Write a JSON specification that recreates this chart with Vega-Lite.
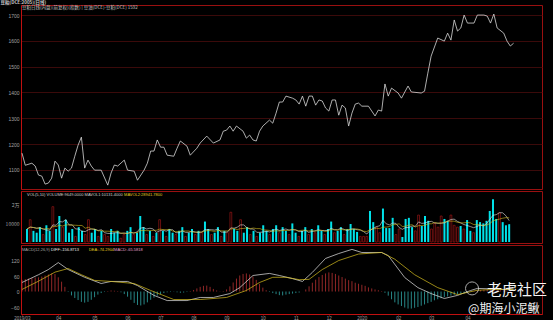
{
  "$schema": "https://vega.github.io/schema/vega-lite/v6.json",
  "background": "black",
  "padding": {"left": 0, "top": 0, "right": 12, "bottom": 0},
  "spacing": 0,
  "config": {
    "view": {"stroke": "#9a1010", "strokeWidth": 1},
    "axis": {"labelColor": "#a0a0a0", "labelFont": "Liberation Sans", "labelFontSize": 5, "gridColor": "#4a0c0c", "gridWidth": 0.8, "domainColor": "#c01010", "tickColor": "#c01010", "tickSize": 2, "labelPadding": 2},
    "title": {"color": "#c8c8c8", "font": "Noto Sans CJK SC", "fontSize": 4.5}
  },
  "title": {"text": "豆粕(DCE:2005)(日线)", "anchor": "start", "offset": 0, "fontSize": 4.5, "color": "#c8c8c8"},
  "datasets": {
    "price": [
      {"i":0,"p":1165},{"i":1,"p":1118},{"i":3,"p":1126},{"i":4,"p":1115},{"i":5,"p":1080},{"i":6,"p":1076},{"i":7,"p":1045},{"i":8,"p":1049},{"i":9,"p":1068},{"i":10,"p":1134},
      {"i":11,"p":1119},{"i":12,"p":1068},{"i":13,"p":1107},{"i":14,"p":1095},{"i":15,"p":1107},{"i":16,"p":1153},{"i":17,"p":1196},{"i":18,"p":1227},{"i":19,"p":1107},{"i":20,"p":1138},
      {"i":21,"p":1115},{"i":22,"p":1099},{"i":24,"p":1099},{"i":26,"p":1041},{"i":27,"p":1088},{"i":28,"p":1119},{"i":29,"p":1115},{"i":31,"p":1138},{"i":32,"p":1099},{"i":34,"p":1095},
      {"i":35,"p":1060},{"i":37,"p":1099},{"i":38,"p":1126},{"i":39,"p":1173},{"i":40,"p":1173},{"i":41,"p":1216},{"i":42,"p":1188},{"i":43,"p":1188},{"i":44,"p":1157},{"i":46,"p":1153},
      {"i":47,"p":1184},{"i":48,"p":1212},{"i":50,"p":1192},{"i":51,"p":1157},{"i":53,"p":1184},{"i":54,"p":1204},{"i":56,"p":1231},{"i":58,"p":1204},{"i":60,"p":1216},{"i":61,"p":1250},
      {"i":62,"p":1254},{"i":63,"p":1270},{"i":64,"p":1250},{"i":65,"p":1270},{"i":67,"p":1250},{"i":68,"p":1223},{"i":69,"p":1235},{"i":70,"p":1216},{"i":71,"p":1212},{"i":72,"p":1250},
      {"i":73,"p":1270},{"i":75,"p":1293},{"i":76,"p":1281},{"i":77,"p":1320},{"i":78,"p":1363},{"i":79,"p":1363},{"i":80,"p":1386},{"i":82,"p":1378},{"i":83,"p":1371},{"i":84,"p":1355},
      {"i":85,"p":1386},{"i":86,"p":1347},{"i":87,"p":1386},{"i":88,"p":1386},{"i":89,"p":1351},{"i":90,"p":1371},{"i":91,"p":1367},{"i":92,"p":1340},{"i":93,"p":1328},{"i":94,"p":1371},
      {"i":95,"p":1371},{"i":96,"p":1312},{"i":97,"p":1351},{"i":98,"p":1340},{"i":99,"p":1270},{"i":100,"p":1320},{"i":101,"p":1355},{"i":102,"p":1359},{"i":103,"p":1347},{"i":105,"p":1347},
      {"i":107,"p":1309},{"i":108,"p":1332},{"i":109,"p":1328},{"i":110,"p":1433},{"i":111,"p":1386},{"i":112,"p":1417},{"i":114,"p":1398},{"i":115,"p":1378},{"i":117,"p":1425},{"i":118,"p":1402},
      {"i":121,"p":1398},{"i":122,"p":1405},{"i":123,"p":1475},{"i":124,"p":1541},{"i":126,"p":1611},{"i":128,"p":1599},{"i":129,"p":1630},{"i":130,"p":1603},{"i":131,"p":1681},{"i":132,"p":1638},
      {"i":133,"p":1650},{"i":134,"p":1700},{"i":135,"p":1669},{"i":137,"p":1669},{"i":138,"p":1700},{"i":140,"p":1700},{"i":141,"p":1696},{"i":142,"p":1669},{"i":143,"p":1704},{"i":144,"p":1650},
      {"i":146,"p":1630},{"i":147,"p":1599},{"i":148,"p":1580},{"i":149,"p":1591}
    ],
    "vol": [
      {"i":0,"v":7000,"d":"up","m5":7000,"m10":7000,"h":45},
      {"i":1,"v":12000,"d":"dn","m5":8000,"m10":8000,"h":48},
      {"i":2,"v":6000,"d":"up","m5":7800,"m10":7800,"h":50},
      {"i":3,"v":5000,"d":"up","m5":7400,"m10":7400,"h":52},
      {"i":4,"v":8000,"d":"up","m5":7600,"m10":7600,"h":54},
      {"i":5,"v":4000,"d":"dn","m5":7000,"m10":7000,"h":55},
      {"i":6,"v":9000,"d":"up","m5":6400,"m10":7200,"h":58},
      {"i":7,"v":6000,"d":"up","m5":6400,"m10":7100,"h":62},
      {"i":8,"v":19000,"d":"dn","m5":9200,"m10":8300,"h":66},
      {"i":9,"v":7000,"d":"up","m5":9000,"m10":8300,"h":70},
      {"i":10,"v":14000,"d":"up","m5":11000,"m10":9000,"h":68},
      {"i":11,"v":8000,"d":"dn","m5":10800,"m10":8600,"h":55},
      {"i":12,"v":12000,"d":"up","m5":12000,"m10":9200,"h":38},
      {"i":13,"v":5000,"d":"up","m5":9200,"m10":9200,"h":18},
      {"i":14,"v":7000,"d":"up","m5":9200,"m10":9100,"h":-2},
      {"i":15,"v":3000,"d":"dn","m5":7000,"m10":9000,"h":-15},
      {"i":16,"v":8000,"d":"up","m5":7000,"m10":8900,"h":-25},
      {"i":17,"v":6000,"d":"up","m5":5800,"m10":8900,"h":-33},
      {"i":18,"v":4000,"d":"dn","m5":5600,"m10":7400,"h":-40},
      {"i":19,"v":12000,"d":"dn","m5":6600,"m10":7900,"h":-43},
      {"i":20,"v":5000,"d":"up","m5":7000,"m10":7000,"h":-40},
      {"i":21,"v":7000,"d":"up","m5":6800,"m10":6900,"h":-32},
      {"i":22,"v":3000,"d":"dn","m5":6200,"m10":6000,"h":-22},
      {"i":23,"v":6000,"d":"up","m5":6600,"m10":6100,"h":-12},
      {"i":24,"v":4000,"d":"dn","m5":5000,"m10":5800,"h":-6},
      {"i":25,"v":3000,"d":"dn","m5":4600,"m10":5800,"h":-2},
      {"i":26,"v":7000,"d":"up","m5":4600,"m10":5700,"h":2},
      {"i":27,"v":5000,"d":"up","m5":5000,"m10":5600,"h":4},
      {"i":28,"v":6000,"d":"up","m5":5000,"m10":5800,"h":3},
      {"i":29,"v":2000,"d":"dn","m5":4600,"m10":4800,"h":2},
      {"i":30,"v":4000,"d":"dn","m5":4800,"m10":4700,"h":-3},
      {"i":31,"v":6000,"d":"up","m5":4600,"m10":4600,"h":-10},
      {"i":32,"v":8000,"d":"up","m5":5200,"m10":5100,"h":-20},
      {"i":33,"v":4000,"d":"dn","m5":4800,"m10":4900,"h":-32},
      {"i":34,"v":5000,"d":"up","m5":5400,"m10":5000,"h":-44},
      {"i":35,"v":14000,"d":"up","m5":7400,"m10":6100,"h":-52},
      {"i":36,"v":8000,"d":"up","m5":7800,"m10":6200,"h":-54},
      {"i":37,"v":4000,"d":"dn","m5":7000,"m10":6100,"h":-50},
      {"i":38,"v":6000,"d":"up","m5":7400,"m10":6100,"h":-42},
      {"i":39,"v":3000,"d":"dn","m5":7000,"m10":6200,"h":-32},
      {"i":40,"v":5000,"d":"up","m5":5200,"m10":6300,"h":-24},
      {"i":41,"v":12000,"d":"dn","m5":6000,"m10":6900,"h":-16},
      {"i":42,"v":6000,"d":"up","m5":6400,"m10":6700,"h":-10},
      {"i":43,"v":3000,"d":"dn","m5":5800,"m10":6600,"h":-6},
      {"i":44,"v":7000,"d":"up","m5":6600,"m10":6800,"h":-3},
      {"i":45,"v":5000,"d":"up","m5":6600,"m10":5900,"h":-2},
      {"i":46,"v":4000,"d":"dn","m5":5000,"m10":5500,"h":-1},
      {"i":47,"v":6000,"d":"up","m5":5000,"m10":5700,"h":-3},
      {"i":48,"v":8000,"d":"up","m5":6000,"m10":5900,"h":-5},
      {"i":49,"v":3000,"d":"dn","m5":5200,"m10":5900,"h":-4},
      {"i":50,"v":5000,"d":"up","m5":5200,"m10":5900,"h":-2},
      {"i":51,"v":7000,"d":"up","m5":5800,"m10":5400,"h":2},
      {"i":52,"v":4000,"d":"dn","m5":5400,"m10":5200,"h":6},
      {"i":53,"v":6000,"d":"up","m5":5000,"m10":5500,"h":12},
      {"i":54,"v":5000,"d":"dn","m5":5400,"m10":5300,"h":18},
      {"i":55,"v":11000,"d":"up","m5":6600,"m10":5900,"h":22},
      {"i":56,"v":7000,"d":"up","m5":6600,"m10":6200,"h":23},
      {"i":57,"v":4000,"d":"dn","m5":6600,"m10":6000,"h":18},
      {"i":58,"v":5000,"d":"up","m5":6400,"m10":5700,"h":10},
      {"i":59,"v":8000,"d":"up","m5":7000,"m10":6200,"h":4},
      {"i":60,"v":3000,"d":"dn","m5":5400,"m10":6000,"h":1},
      {"i":61,"v":6000,"d":"up","m5":5200,"m10":5900,"h":2},
      {"i":62,"v":5000,"d":"dn","m5":5400,"m10":6000,"h":8},
      {"i":63,"v":16000,"d":"dn","m5":7600,"m10":7000,"h":20},
      {"i":64,"v":7000,"d":"up","m5":7400,"m10":7200,"h":35},
      {"i":65,"v":6000,"d":"up","m5":8000,"m10":6700,"h":50},
      {"i":66,"v":12000,"d":"dn","m5":9200,"m10":7200,"h":62},
      {"i":67,"v":5000,"d":"up","m5":9200,"m10":7300,"h":68},
      {"i":68,"v":8000,"d":"up","m5":7600,"m10":7600,"h":70},
      {"i":69,"v":4000,"d":"dn","m5":7000,"m10":7200,"h":66},
      {"i":70,"v":6000,"d":"up","m5":7000,"m10":7500,"h":58},
      {"i":71,"v":3000,"d":"dn","m5":5200,"m10":7200,"h":45},
      {"i":72,"v":5000,"d":"up","m5":5200,"m10":7200,"h":30},
      {"i":73,"v":9000,"d":"up","m5":5400,"m10":6500,"h":15},
      {"i":74,"v":6000,"d":"up","m5":5800,"m10":6400,"h":5},
      {"i":75,"v":4000,"d":"dn","m5":5400,"m10":6200,"h":-2},
      {"i":76,"v":7000,"d":"up","m5":6200,"m10":5700,"h":-6},
      {"i":77,"v":9000,"d":"up","m5":7000,"m10":6100,"h":-10},
      {"i":78,"v":5000,"d":"dn","m5":6200,"m10":5800,"h":-14},
      {"i":79,"v":8000,"d":"up","m5":6600,"m10":6200,"h":-15},
      {"i":80,"v":6000,"d":"up","m5":7000,"m10":6200,"h":-12},
      {"i":81,"v":4000,"d":"dn","m5":6400,"m10":6300,"h":-10},
      {"i":82,"v":10000,"d":"up","m5":6600,"m10":6800,"h":-8},
      {"i":83,"v":5000,"d":"up","m5":6600,"m10":6400,"h":-6},
      {"i":84,"v":3000,"d":"dn","m5":5600,"m10":6100,"h":-4},
      {"i":85,"v":6000,"d":"up","m5":5600,"m10":6300,"h":0},
      {"i":86,"v":8000,"d":"up","m5":6400,"m10":6400,"h":8},
      {"i":87,"v":4000,"d":"dn","m5":5200,"m10":5900,"h":20},
      {"i":88,"v":7000,"d":"up","m5":5600,"m10":6100,"h":34},
      {"i":89,"v":5000,"d":"dn","m5":6000,"m10":5800,"h":46},
      {"i":90,"v":9000,"d":"up","m5":6600,"m10":6100,"h":56},
      {"i":91,"v":6000,"d":"up","m5":6200,"m10":6300,"h":64},
      {"i":92,"v":4000,"d":"dn","m5":6200,"m10":5700,"h":70},
      {"i":93,"v":7000,"d":"up","m5":6200,"m10":5900,"h":74},
      {"i":94,"v":11000,"d":"up","m5":7400,"m10":6700,"h":72},
      {"i":95,"v":5000,"d":"dn","m5":6600,"m10":6600,"h":68},
      {"i":96,"v":6000,"d":"up","m5":6600,"m10":6400,"h":62},
      {"i":97,"v":8000,"d":"up","m5":7400,"m10":6800,"h":56},
      {"i":98,"v":4000,"d":"dn","m5":6800,"m10":6500,"h":50},
      {"i":99,"v":7000,"d":"up","m5":6000,"m10":6700,"h":44},
      {"i":100,"v":9700,"d":"up","m5":6900,"m10":6800,"h":40},
      {"i":101,"v":7000,"d":"up","m5":7100,"m10":6900,"h":34},
      {"i":102,"v":5400,"d":"up","m5":6600,"m10":7000,"h":30},
      {"i":103,"v":3000,"d":"dn","m5":6400,"m10":6600,"h":26},
      {"i":104,"v":3000,"d":"dn","m5":5600,"m10":5800,"h":22},
      {"i":105,"v":3000,"d":"dn","m5":4300,"m10":5600,"h":16},
      {"i":106,"v":16700,"d":"up","m5":6200,"m10":6700,"h":12},
      {"i":107,"v":10700,"d":"up","m5":7300,"m10":7000,"h":8},
      {"i":108,"v":8000,"d":"dn","m5":8300,"m10":7400,"h":5},
      {"i":109,"v":5000,"d":"dn","m5":8700,"m10":7200,"h":2},
      {"i":110,"v":18000,"d":"up","m5":11700,"m10":8000,"h":-5},
      {"i":111,"v":7500,"d":"up","m5":9800,"m10":8000,"h":-16},
      {"i":112,"v":7500,"d":"up","m5":9200,"m10":8300,"h":-30},
      {"i":113,"v":13000,"d":"up","m5":10200,"m10":9300,"h":-42},
      {"i":114,"v":4000,"d":"dn","m5":10000,"m10":9400,"h":-50},
      {"i":115,"v":7000,"d":"dn","m5":7800,"m10":9800,"h":-56},
      {"i":116,"v":2700,"d":"up","m5":6800,"m10":8300,"h":-62},
      {"i":117,"v":12400,"d":"up","m5":7800,"m10":8500,"h":-66},
      {"i":118,"v":13000,"d":"up","m5":7800,"m10":9000,"h":-66},
      {"i":119,"v":8000,"d":"up","m5":8600,"m10":9300,"h":-63},
      {"i":120,"v":6000,"d":"dn","m5":8400,"m10":8100,"h":-60},
      {"i":121,"v":14500,"d":"dn","m5":10800,"m10":8800,"h":-55},
      {"i":122,"v":8600,"d":"up","m5":10000,"m10":8900,"h":-50},
      {"i":123,"v":14000,"d":"up","m5":10200,"m10":9000,"h":-45},
      {"i":124,"v":11400,"d":"up","m5":10900,"m10":9800,"h":-40},
      {"i":125,"v":7000,"d":"dn","m5":11100,"m10":9800,"h":-34},
      {"i":126,"v":10000,"d":"dn","m5":10200,"m10":10500,"h":-30},
      {"i":127,"v":8000,"d":"dn","m5":10100,"m10":10100,"h":-26},
      {"i":128,"v":14000,"d":"dn","m5":10100,"m10":10200,"h":-22},
      {"i":129,"v":12400,"d":"up","m5":10300,"m10":10600,"h":-19},
      {"i":130,"v":11400,"d":"up","m5":11200,"m10":11200,"h":-16},
      {"i":131,"v":14500,"d":"dn","m5":12100,"m10":11200,"h":-13},
      {"i":132,"v":9000,"d":"dn","m5":12300,"m10":11200,"h":-11},
      {"i":133,"v":8000,"d":"dn","m5":11100,"m10":10600,"h":-8},
      {"i":134,"v":8600,"d":"up","m5":10300,"m10":10300,"h":-6},
      {"i":135,"v":7000,"d":"dn","m5":9400,"m10":10300,"h":-3},
      {"i":136,"v":11800,"d":"up","m5":8900,"m10":10500,"h":-1},
      {"i":137,"v":6000,"d":"up","m5":8300,"m10":10300,"h":2},
      {"i":138,"v":5000,"d":"dn","m5":7700,"m10":9400,"h":4},
      {"i":139,"v":11800,"d":"up","m5":8300,"m10":9300,"h":6},
      {"i":140,"v":10700,"d":"up","m5":9100,"m10":9300,"h":7},
      {"i":141,"v":10000,"d":"up","m5":8700,"m10":8800,"h":8},
      {"i":142,"v":11400,"d":"up","m5":9800,"m10":9100,"h":8},
      {"i":143,"v":16700,"d":"up","m5":12100,"m10":9900,"h":7},
      {"i":144,"v":23000,"d":"up","m5":14400,"m10":11400,"h":6},
      {"i":145,"v":12400,"d":"up","m5":14700,"m10":11900,"h":5},
      {"i":146,"v":15600,"d":"dn","m5":15800,"m10":12300,"h":4},
      {"i":147,"v":10700,"d":"up","m5":15700,"m10":12800,"h":3},
      {"i":148,"v":9000,"d":"up","m5":14100,"m10":13100,"h":2},
      {"i":149,"v":9600,"d":"up","m5":11500,"m10":13000,"h":1}
    ],
    "ml": [
      {"i":0,"k":"DIFF","y":35},{"i":5,"k":"DIFF","y":65},{"i":8,"k":"DIFF","y":85},{"i":11,"k":"DIFF","y":112},{"i":14,"k":"DIFF","y":85},{"i":19,"k":"DIFF","y":55},{"i":24,"k":"DIFF","y":31},{"i":27,"k":"DIFF","y":39},{"i":32,"k":"DIFF","y":39},{"i":35,"k":"DIFF","y":23},
      {"i":40,"k":"DIFF","y":-15},{"i":44,"k":"DIFF","y":-35},{"i":50,"k":"DIFF","y":-35},{"i":54,"k":"DIFF","y":-23},{"i":58,"k":"DIFF","y":-23},{"i":63,"k":"DIFF","y":-8},{"i":66,"k":"DIFF","y":15},{"i":70,"k":"DIFF","y":62},{"i":75,"k":"DIFF","y":70},{"i":78,"k":"DIFF","y":62},
      {"i":82,"k":"DIFF","y":50},{"i":85,"k":"DIFF","y":39},{"i":88,"k":"DIFF","y":74},{"i":92,"k":"DIFF","y":128},{"i":96,"k":"DIFF","y":147},{"i":100,"k":"DIFF","y":163},{"i":103,"k":"DIFF","y":151},{"i":109,"k":"DIFF","y":151},{"i":111,"k":"DIFF","y":139},{"i":116,"k":"DIFF","y":54},
      {"i":120,"k":"DIFF","y":15},{"i":124,"k":"DIFF","y":-8},{"i":128,"k":"DIFF","y":-27},{"i":132,"k":"DIFF","y":-15},{"i":136,"k":"DIFF","y":4},{"i":138,"k":"DIFF","y":12},{"i":143,"k":"DIFF","y":10},{"i":149,"k":"DIFF","y":6},
      {"i":0,"k":"DEA","y":8},{"i":5,"k":"DEA","y":40},{"i":10,"k":"DEA","y":75},{"i":14,"k":"DEA","y":89},{"i":18,"k":"DEA","y":65},{"i":22,"k":"DEA","y":43},{"i":27,"k":"DEA","y":39},{"i":34,"k":"DEA","y":31},{"i":39,"k":"DEA","y":4},{"i":46,"k":"DEA","y":-31},
      {"i":54,"k":"DEA","y":-31},{"i":62,"k":"DEA","y":-23},{"i":68,"k":"DEA","y":4},{"i":72,"k":"DEA","y":35},{"i":76,"k":"DEA","y":55},{"i":80,"k":"DEA","y":55},{"i":84,"k":"DEA","y":46},{"i":87,"k":"DEA","y":47},{"i":91,"k":"DEA","y":85},{"i":96,"k":"DEA","y":120},
      {"i":102,"k":"DEA","y":145},{"i":109,"k":"DEA","y":151},{"i":113,"k":"DEA","y":125},{"i":119,"k":"DEA","y":65},{"i":126,"k":"DEA","y":15},{"i":132,"k":"DEA","y":-12},{"i":138,"k":"DEA","y":5},{"i":143,"k":"DEA","y":8},{"i":149,"k":"DEA","y":8}
    ]
  },
  "vconcat": [
    {
      "width": 521,
      "height": 184,
      "resolve": {"axis": {"x": "independent", "y": "independent"}},
      "layer": [
        {
          "data": {"name": "price"},
          "mark": {"type": "line", "color": "#d8d8d8", "strokeWidth": 0.8},
          "encoding": {
            "x": {"field": "i", "type": "quantitative", "scale": {"domain": [-0.3, 157.6], "nice": false, "zero": false}, "axis": null},
            "y": {"field": "p", "type": "quantitative", "scale": {"domain": [1026, 1739], "nice": false, "zero": false},
                  "axis": {"values": [1100, 1200, 1300, 1400, 1500, 1600, 1700], "format": "d", "grid": true, "ticks": false, "title": null, "minExtent": 20, "maxExtent": 20}}
          }
        },
        {
          "data": {"values": [{}]},
          "mark": {"type": "text", "align": "left", "baseline": "middle", "fontSize": 4.5, "font": "Noto Sans CJK SC", "color": "#c8c8c8"},
          "encoding": {
            "x": {"datum": 0, "type": "quantitative", "axis": null},
            "y": {"datum": 1727, "type": "quantitative", "axis": null},
            "text": {"value": "豆粕日线(内盘)(前复权)(指数) | 豆油(DCE)-豆粕(DCE)   1592"}
          }
        }
      ]
    },
    {
      "width": 521,
      "height": 52,
      "resolve": {"axis": {"x": "independent", "y": "independent"}},
      "layer": [
        {
          "data": {"name": "vol"},
          "transform": [{"filter": "datum.d == 'up'"}],
          "mark": {"type": "bar", "color": "#00e2ea", "size": 2},
          "encoding": {
            "x": {"field": "i", "type": "quantitative", "scale": {"domain": [-0.3, 157.6], "nice": false, "zero": false}, "axis": null},
            "y": {"field": "v", "type": "quantitative", "scale": {"domain": [-540, 27440], "nice": false, "zero": false},
                  "axis": {"values": [10000, 20000], "labelExpr": "datum.value == 20000 ? '2万' : '10000'", "grid": false, "ticks": false, "title": null, "labelFont": "Noto Sans CJK SC", "minExtent": 20, "maxExtent": 20}}
          }
        },
        {
          "data": {"name": "vol"},
          "transform": [{"filter": "datum.d == 'dn'"}],
          "mark": {"type": "bar", "fill": "black", "stroke": "#b01a1a", "strokeWidth": 0.6, "size": 1.8},
          "encoding": {
            "x": {"field": "i", "type": "quantitative", "axis": null},
            "y": {"field": "v", "type": "quantitative", "axis": null}
          }
        },
        {
          "data": {"name": "vol"},
          "mark": {"type": "line", "color": "#e8e8e8", "strokeWidth": 0.6},
          "encoding": {
            "x": {"field": "i", "type": "quantitative", "axis": null},
            "y": {"field": "m5", "type": "quantitative", "axis": null}
          }
        },
        {
          "data": {"name": "vol"},
          "mark": {"type": "line", "color": "#d8c020", "strokeWidth": 0.6},
          "encoding": {
            "x": {"field": "i", "type": "quantitative", "axis": null},
            "y": {"field": "m10", "type": "quantitative", "axis": null}
          }
        },
        {
          "data": {"values": [{}]},
          "mark": {"type": "text", "align": "left", "baseline": "middle", "fontSize": 4, "font": "Liberation Sans", "color": "#d0d0d0"},
          "encoding": {
            "x": {"datum": 0, "type": "quantitative", "axis": null},
            "y": {"datum": 25300, "type": "quantitative", "axis": null},
            "text": {"value": "VOL(5,10)  VOLUME:9649.0000  MAVOL1:10131.4000"}
          }
        },
        {
          "data": {"values": [{}]},
          "mark": {"type": "text", "align": "left", "baseline": "middle", "fontSize": 4, "font": "Liberation Sans", "color": "#e0d020"},
          "encoding": {
            "x": {"datum": 30, "type": "quantitative", "axis": null},
            "y": {"datum": 25300, "type": "quantitative", "axis": null},
            "text": {"value": "MAVOL2:28941.7800"}
          }
        }
      ]
    },
    {
      "width": 521,
      "height": 69,
      "resolve": {"axis": {"x": "independent", "y": "independent"}},
      "layer": [
        {
          "data": {"name": "vol"},
          "transform": [{"filter": "datum.h >= 0"}],
          "mark": {"type": "rule", "color": "#d03838", "strokeWidth": 0.7},
          "encoding": {
            "x": {"field": "i", "type": "quantitative", "scale": {"domain": [-0.3, 157.6], "nice": false, "zero": false},
                  "axis": {"values": [0, 11, 22, 32, 42, 52, 62, 73, 83, 93, 103, 114, 124, 135],
                           "labelExpr": "['2019/03','04','05','06','07','08','09','10','11','12','2020','02','03','04'][indexof([0,11,22,32,42,52,62,73,83,93,103,114,124,135], datum.value)]",
                           "grid": false, "ticks": true, "tickSize": 1, "title": null, "labelFlush": false, "labelFontSize": 4.5, "labelPadding": 0}},
            "y": {"field": "h", "type": "quantitative", "scale": {"domain": [-87, 180], "nice": false, "zero": false},
                  "axis": {"values": [-60, 0, 60, 120], "grid": false, "ticks": false, "title": null, "minExtent": 20, "maxExtent": 20}},
            "y2": {"datum": 0}
          }
        },
        {
          "data": {"name": "vol"},
          "transform": [{"filter": "datum.h < 0"}],
          "mark": {"type": "rule", "color": "#38c0c0", "strokeWidth": 0.7},
          "encoding": {
            "x": {"field": "i", "type": "quantitative", "axis": null},
            "y": {"field": "h", "type": "quantitative", "axis": null},
            "y2": {"datum": 0}
          }
        },
        {
          "data": {"name": "ml"},
          "transform": [{"filter": "datum.k == 'DIFF'"}],
          "mark": {"type": "line", "color": "#e8e8e8", "strokeWidth": 0.7},
          "encoding": {
            "x": {"field": "i", "type": "quantitative", "axis": null},
            "y": {"field": "y", "type": "quantitative", "axis": null}
          }
        },
        {
          "data": {"name": "ml"},
          "transform": [{"filter": "datum.k == 'DEA'"}],
          "mark": {"type": "line", "color": "#d8c020", "strokeWidth": 0.7},
          "encoding": {
            "x": {"field": "i", "type": "quantitative", "axis": null},
            "y": {"field": "y", "type": "quantitative", "axis": null}
          }
        },
        {
          "data": {"values": [{}]},
          "mark": {"type": "text", "align": "left", "baseline": "middle", "fontSize": 4, "font": "Liberation Sans", "color": "#a8a8a8"},
          "encoding": {
            "x": {"datum": 0, "type": "quantitative", "axis": null},
            "y": {"datum": 160, "type": "quantitative", "axis": null},
            "text": {"value": "MACD(12,26,9)"}
          }
        },
        {
          "data": {"values": [{}]},
          "mark": {"type": "text", "align": "left", "baseline": "middle", "fontSize": 4, "font": "Liberation Sans", "color": "#e8e8e8"},
          "encoding": {
            "x": {"datum": 8.8, "type": "quantitative", "axis": null},
            "y": {"datum": 160, "type": "quantitative", "axis": null},
            "text": {"value": "DIFF:-156.8713"}
          }
        },
        {
          "data": {"values": [{}]},
          "mark": {"type": "text", "align": "left", "baseline": "middle", "fontSize": 4, "font": "Liberation Sans", "color": "#e0d020"},
          "encoding": {
            "x": {"datum": 20.3, "type": "quantitative", "axis": null},
            "y": {"datum": 160, "type": "quantitative", "axis": null},
            "text": {"value": "DEA:-74.2904"}
          }
        },
        {
          "data": {"values": [{}]},
          "mark": {"type": "text", "align": "left", "baseline": "middle", "fontSize": 4, "font": "Liberation Sans", "color": "#e0a0d0"},
          "encoding": {
            "x": {"datum": 27.9, "type": "quantitative", "axis": null},
            "y": {"datum": 160, "type": "quantitative", "axis": null},
            "text": {"value": "MACD:-65.5818"}
          }
        },
        {
          "data": {"values": [{}]},
          "mark": {"type": "point", "shape": "circle", "filled": false, "stroke": "#f0f0f0", "strokeWidth": 1, "size": 170},
          "encoding": {
            "x": {"datum": 136.4, "type": "quantitative", "axis": null},
            "y": {"datum": 12, "type": "quantitative", "axis": null}
          }
        },
        {
          "data": {"values": [{}]},
          "mark": {"type": "text", "align": "center", "baseline": "middle", "fontSize": 15, "font": "Noto Sans CJK SC", "color": "#f4f4f4"},
          "encoding": {
            "x": {"datum": 150, "type": "quantitative", "axis": null},
            "y": {"datum": 4, "type": "quantitative", "axis": null},
            "text": {"value": "老虎社区"}
          }
        },
        {
          "data": {"values": [{}]},
          "mark": {"type": "text", "align": "center", "baseline": "middle", "fontSize": 12, "font": "Noto Sans CJK SC", "color": "#f0f0f0"},
          "encoding": {
            "x": {"datum": 146, "type": "quantitative", "axis": null},
            "y": {"datum": -68, "type": "quantitative", "axis": null},
            "text": {"value": "@期海小泥鳅"}
          }
        }
      ]
    }
  ]
}
